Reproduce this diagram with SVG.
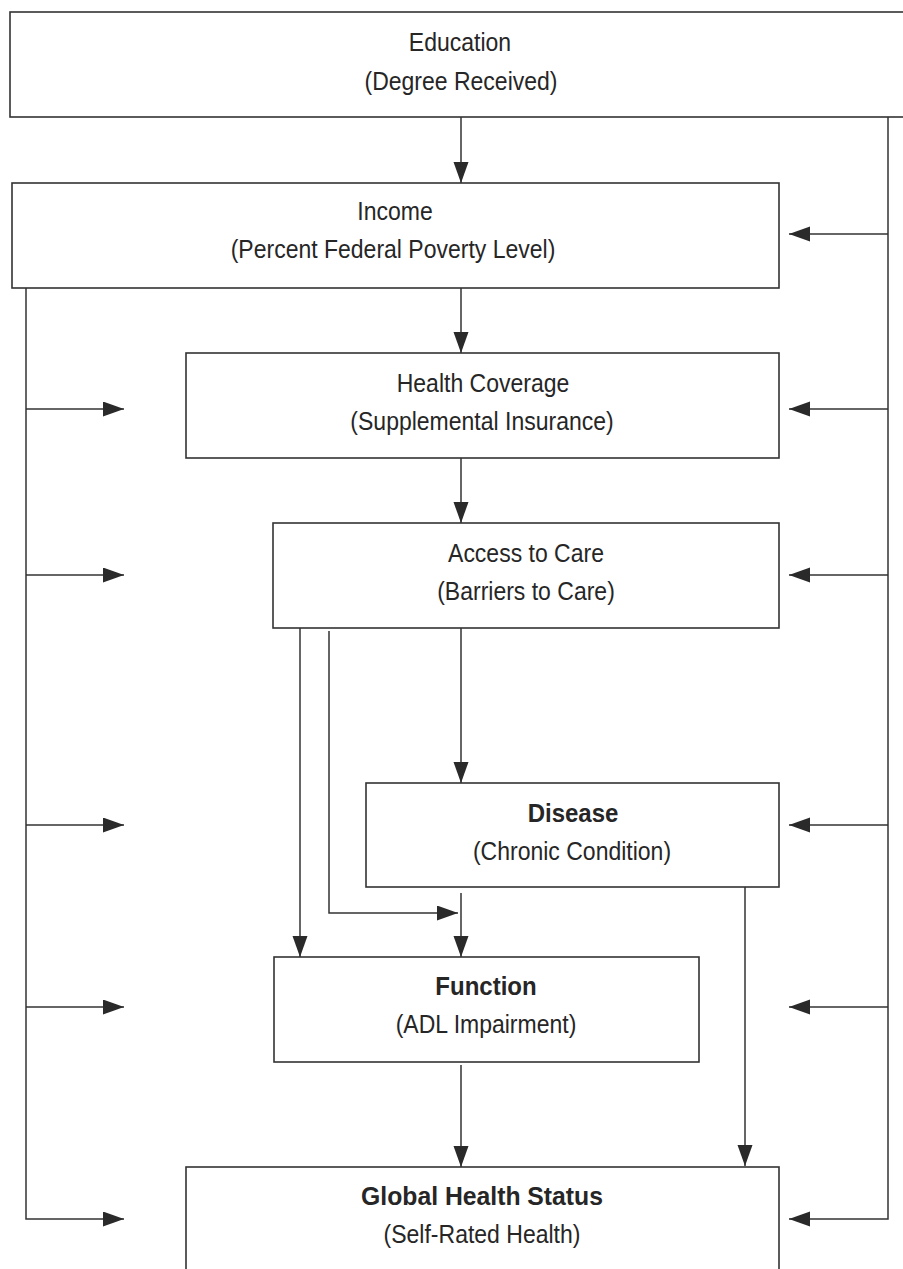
<svg xmlns="http://www.w3.org/2000/svg" width="903" height="1269" viewBox="0 0 903 1269">
<style>
.box{fill:#fff;stroke:#333;stroke-width:1.6}
.t{font-family:"Liberation Sans",Arial,sans-serif;font-size:25px;fill:#262626;text-anchor:middle}
.b{font-weight:bold}
.c{fill:none;stroke:#333;stroke-width:1.5}
</style>
<defs>
<marker id="ah" markerUnits="userSpaceOnUse" markerWidth="22" markerHeight="16" refX="21" refY="7.5" orient="auto">
<path d="M0,0 L21,7.5 L0,15 z" fill="#2a2a2a"/>
</marker>
</defs>
<rect width="903" height="1269" fill="#fff"/>
<g id="education">
<rect class="box" x="10" y="12" width="896" height="105"/>
<text class="t" transform="translate(460,51) scale(0.92,1)">Education</text>
<text class="t" transform="translate(461,90) scale(0.92,1)">(Degree Received)</text>
</g>
<g id="income">
<rect class="box" x="12" y="183" width="767" height="105"/>
<text class="t" transform="translate(395,220) scale(0.92,1)">Income</text>
<text class="t" transform="translate(393,258) scale(0.92,1)">(Percent Federal Poverty Level)</text>
</g>
<g id="health-coverage">
<rect class="box" x="186" y="353" width="593" height="105"/>
<text class="t" transform="translate(483,392) scale(0.92,1)">Health Coverage</text>
<text class="t" transform="translate(482,430) scale(0.92,1)">(Supplemental Insurance)</text>
</g>
<g id="access">
<rect class="box" x="273" y="523" width="506" height="105"/>
<text class="t" transform="translate(526,562) scale(0.92,1)">Access to Care</text>
<text class="t" transform="translate(526,600) scale(0.92,1)">(Barriers to Care)</text>
</g>
<g id="disease">
<rect class="box" x="366" y="783" width="413" height="104"/>
<text class="t b" transform="translate(573,822) scale(0.96,1)">Disease</text>
<text class="t" transform="translate(572,860) scale(0.92,1)">(Chronic Condition)</text>
</g>
<g id="function">
<rect class="box" x="274" y="957" width="425" height="105"/>
<text class="t b" transform="translate(486,995) scale(0.96,1)">Function</text>
<text class="t" transform="translate(486,1033) scale(0.92,1)">(ADL Impairment)</text>
</g>
<g id="global-health">
<rect class="box" x="186" y="1167" width="593" height="120"/>
<text class="t b" transform="translate(482,1205) scale(0.99,1)">Global Health Status</text>
<text class="t" transform="translate(482,1243) scale(0.92,1)">(Self-Rated Health)</text>
</g>
<g id="connectors">
<path class="c" d="M461,117 V183" marker-end="url(#ah)"/>
<path class="c" d="M461,288 V353" marker-end="url(#ah)"/>
<path class="c" d="M461,458 V523" marker-end="url(#ah)"/>
<path class="c" d="M461,628 V783" marker-end="url(#ah)"/>
<path class="c" d="M300,628 V957" marker-end="url(#ah)"/>
<path class="c" d="M329,631 V913 H458" marker-end="url(#ah)"/>
<path class="c" d="M461,893 V957" marker-end="url(#ah)"/>
<path class="c" d="M461,1065 V1167" marker-end="url(#ah)"/>
<path class="c" d="M745,887 V1166" marker-end="url(#ah)"/>
<path class="c" d="M26,288 V1219 H124" marker-end="url(#ah)"/>
<path class="c" d="M26,409 H124" marker-end="url(#ah)"/>
<path class="c" d="M26,575 H124" marker-end="url(#ah)"/>
<path class="c" d="M26,825 H124" marker-end="url(#ah)"/>
<path class="c" d="M26,1007 H124" marker-end="url(#ah)"/>
<path class="c" d="M888,117 V1219 H789" marker-end="url(#ah)"/>
<path class="c" d="M888,234 H789" marker-end="url(#ah)"/>
<path class="c" d="M888,409 H789" marker-end="url(#ah)"/>
<path class="c" d="M888,575 H789" marker-end="url(#ah)"/>
<path class="c" d="M888,825 H789" marker-end="url(#ah)"/>
<path class="c" d="M888,1007 H789" marker-end="url(#ah)"/>
</g>
</svg>
